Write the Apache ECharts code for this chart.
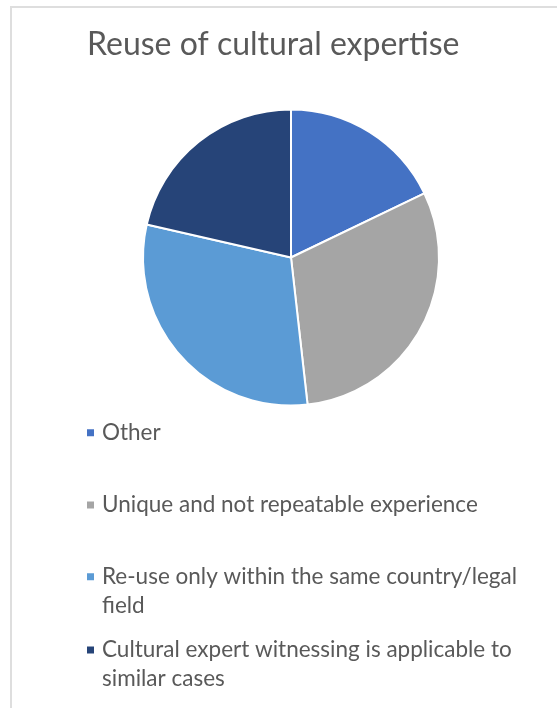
<!DOCTYPE html>
<html>
<head>
<meta charset="utf-8">
<script src="https://cdn.jsdelivr.net/npm/echarts@6/dist/echarts.min.js"></script>
<style>
  html, body { margin: 0; padding: 0; width: 557px; height: 708px; overflow: hidden; background: #fff; }
  #frame { position: absolute; left: 10px; top: 6px; width: 700px; height: 800px; border-left: 2px solid #dedede; border-top: 2px solid #dedede; }
  #chart { position: absolute; left: 0; top: 0; width: 557px; height: 708px; }
</style>
</head>
<body>
<div id="frame"></div>
<div id="chart"></div>
<script>
const titleText = 'Reuse of cultural expertise';
const categories = [
  'Other',
  'Unique and not repeatable experience',
  'Re-use only within the same country/legal field',
  'Cultural expert witnessing is applicable to similar cases'
];
const legendLines = [
  ['Other'],
  ['Unique and not repeatable experience'],
  ['Re-use only within the same country/legal', 'field'],
  ['Cultural expert witnessing is applicable to', 'similar cases']
];
const values = [10, 17, 17, 12];
const colors = ['#4472C4', '#A5A5A5', '#5B9BD5', '#264478'];

const FONT = 'Lato';
const LH = 29;
const legendIconCenters = [432.7, 505, 576.7, 650];

const chart = echarts.init(document.getElementById('chart'), null, { renderer: 'canvas' });

const legends = categories.map((name, i) => {
  const lines = legendLines[i];
  const extra = lines.length > 1 ? lines.length - 1 : 0;
  const halfBlock = (lines.length + extra) * LH / 2;
  return {
    show: true,
    data: [name],
    orient: 'vertical',
    left: 85,
    top: legendIconCenters[i] - halfBlock,
    padding: 0,
    icon: 'rect',
    itemWidth: 9,
    itemHeight: 9,
    selectedMode: false,
    formatter: function () {
      const pre = extra ? '\n'.repeat(extra) : '';
      return pre + lines.join('\n');
    },
    textStyle: {
      fontFamily: FONT,
      fontSize: 22.5,
      color: '#595959',
      lineHeight: LH,
      padding: [0, 0, 0, 2]
    }
  };
});

chart.setOption({
  animation: false,
  backgroundColor: 'transparent',
  color: colors,
  title: {
    text: titleText,
    left: 82,
    top: 24,
    textStyle: {
      fontFamily: FONT,
      fontSize: 32,
      fontWeight: 'normal',
      color: '#595959'
    }
  },
  legend: legends,
  series: [{
    type: 'pie',
    center: [291, 257.5],
    radius: [0, 148],
    startAngle: 90,
    clockwise: true,
    label: { show: false },
    labelLine: { show: false },
    emphasis: { disabled: true },
    itemStyle: { borderColor: '#ffffff', borderWidth: 2 },
    data: categories.map((name, i) => ({ name: name, value: values[i] }))
  }]
});
</script>
</body>
</html>
